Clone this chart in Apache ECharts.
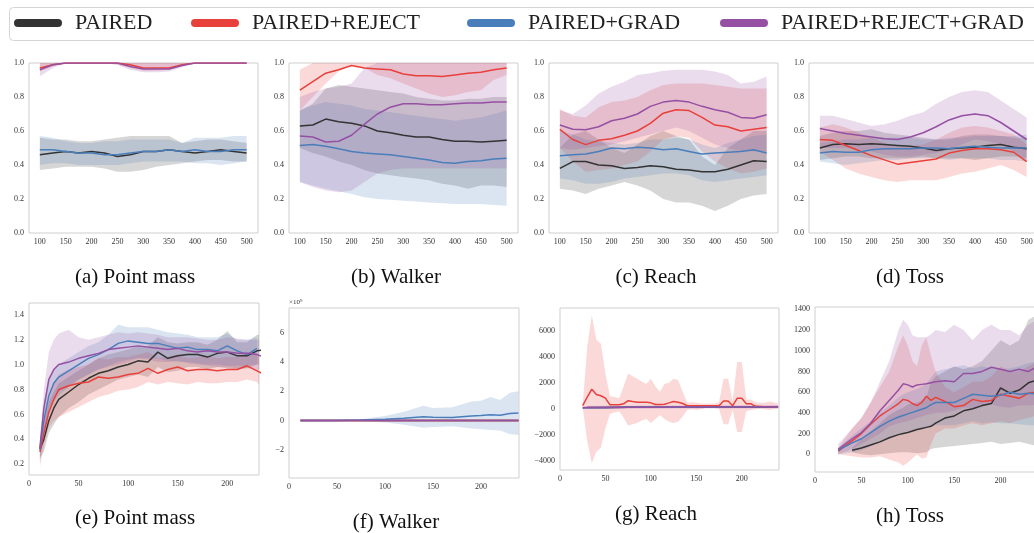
<!DOCTYPE html>
<html>
<head>
<meta charset="utf-8">
<script src="https://cdn.jsdelivr.net/npm/echarts@6/dist/echarts.min.js"></script>
<style>html,body{margin:0;padding:0;background:#fff}#c{width:1034px;height:533px}</style>
</head>
<body>
<div id="c"></div>
<script>
// ---------- names ----------
const NAMES = ['PAIRED', 'PAIRED+REJECT', 'PAIRED+GRAD', 'PAIRED+REJECT+GRAD'];
const TITLES = ['(a) Point mass', '(b) Walker', '(c) Reach', '(d) Toss', '(e) Point mass', '(f) Walker', '(g) Reach', '(h) Toss'];

// ---------- tick labels ----------
const X_TICKS_TOP = [100, 150, 200, 250, 300, 350, 400, 450, 500];
const Y_TICKS_TOP = [0.0, 0.2, 0.4, 0.6, 0.8, 1.0];
const X_TICKS_BOT = [0, 50, 100, 150, 200];
const Y_TICKS_E = [0.2, 0.4, 0.6, 0.8, 1.0, 1.2, 1.4];
const Y_TICKS_F = [-2, 0, 2, 4, 6];
const Y_TICKS_G = [-4000, -2000, 0, 2000, 4000, 6000];
const Y_TICKS_H = [0, 200, 400, 600, 800, 1000, 1200, 1400];

// ---------- top row (x = iteration) ----------
const X_TOP = [100,125,150,175,200,225,250,275,300,325,350,375,400,425,450,475,500];

// (a) Point mass
const A_PAIRED    = [0.46,0.47,0.48,0.47,0.48,0.47,0.45,0.46,0.48,0.48,0.49,0.48,0.47,0.48,0.49,0.48,0.47];
const A_PAIRED_LO = [0.37,0.38,0.39,0.39,0.39,0.38,0.36,0.36,0.37,0.39,0.40,0.41,0.42,0.43,0.43,0.42,0.42];
const A_PAIRED_HI = [0.56,0.55,0.55,0.54,0.54,0.55,0.56,0.57,0.57,0.57,0.57,0.53,0.54,0.55,0.55,0.54,0.53];
const A_REJECT    = [0.97,0.99,1.0,1.0,1.0,1.0,1.0,0.99,0.97,0.97,0.97,0.99,1.0,1.0,1.0,1.0,1.0];
const A_REJECT_LO = [0.95,0.98,1.0,1.0,1.0,1.0,0.99,0.97,0.955,0.955,0.96,0.98,1.0,1.0,1.0,1.0,1.0];
const A_REJECT_HI = [1.0,1.0,1.0,1.0,1.0,1.0,1.0,1.0,1.0,1.0,1.0,1.0,1.0,1.0,1.0,1.0,1.0];
const A_GRAD      = [0.49,0.49,0.48,0.47,0.47,0.46,0.46,0.47,0.48,0.48,0.49,0.48,0.49,0.48,0.48,0.49,0.49];
const A_GRAD_LO   = [0.40,0.41,0.41,0.40,0.40,0.40,0.40,0.41,0.42,0.42,0.42,0.42,0.41,0.41,0.40,0.41,0.42];
const A_GRAD_HI   = [0.57,0.56,0.54,0.53,0.53,0.54,0.54,0.55,0.55,0.55,0.55,0.53,0.56,0.56,0.56,0.57,0.57];
const A_RG        = [0.96,0.99,1.0,1.0,1.0,1.0,1.0,0.98,0.965,0.965,0.965,0.985,1.0,1.0,1.0,1.0,1.0];
const A_RG_LO     = [0.92,0.97,1.0,1.0,1.0,1.0,0.99,0.96,0.945,0.945,0.95,0.975,1.0,1.0,1.0,1.0,1.0];
const A_RG_HI     = [1.0,1.0,1.0,1.0,1.0,1.0,1.0,1.0,1.0,1.0,1.0,1.0,1.0,1.0,1.0,1.0,1.0];

// (b) Walker
const B_PAIRED    = [0.63,0.635,0.67,0.655,0.645,0.63,0.60,0.59,0.575,0.565,0.565,0.55,0.54,0.54,0.535,0.54,0.545];
const B_PAIRED_LO = [0.50,0.47,0.45,0.42,0.40,0.37,0.35,0.34,0.33,0.32,0.31,0.29,0.28,0.26,0.28,0.28,0.27];
const B_PAIRED_HI = [0.72,0.76,0.85,0.87,0.86,0.85,0.84,0.83,0.82,0.80,0.79,0.78,0.78,0.79,0.79,0.80,0.80];
const B_REJECT    = [0.84,0.89,0.94,0.96,0.985,0.97,0.965,0.96,0.935,0.925,0.925,0.92,0.93,0.94,0.945,0.96,0.97];
const B_REJECT_LO = [0.72,0.80,0.88,0.95,0.99,0.97,0.93,0.91,0.88,0.85,0.82,0.80,0.81,0.83,0.84,0.90,0.93];
const B_REJECT_HI = [0.96,1.0,1.0,1.0,1.0,1.0,1.0,1.0,1.0,1.0,1.0,1.0,1.0,1.0,1.0,1.0,1.0];
const B_GRAD      = [0.515,0.52,0.51,0.495,0.48,0.47,0.465,0.46,0.45,0.44,0.43,0.415,0.41,0.42,0.425,0.435,0.44];
const B_GRAD_LO   = [0.30,0.28,0.26,0.245,0.23,0.21,0.20,0.195,0.19,0.185,0.18,0.175,0.17,0.17,0.17,0.165,0.16];
const B_GRAD_HI   = [0.72,0.75,0.77,0.76,0.75,0.73,0.72,0.71,0.70,0.69,0.68,0.67,0.66,0.67,0.68,0.70,0.72];
const B_RG        = [0.57,0.565,0.535,0.54,0.575,0.64,0.70,0.74,0.76,0.76,0.755,0.755,0.76,0.765,0.765,0.77,0.77];
const B_RG_LO     = [0.30,0.27,0.25,0.24,0.25,0.30,0.35,0.37,0.38,0.38,0.38,0.38,0.38,0.38,0.38,0.38,0.38];
const B_RG_HI     = [0.80,0.83,0.85,0.86,0.88,0.97,1.0,1.0,1.0,1.0,1.0,1.0,1.0,1.0,1.0,1.0,1.0];

// (c) Reach
const C_PAIRED    = [0.38,0.42,0.42,0.40,0.395,0.38,0.385,0.395,0.39,0.375,0.37,0.36,0.36,0.375,0.40,0.425,0.42];
const C_PAIRED_LO = [0.26,0.25,0.23,0.26,0.28,0.30,0.28,0.25,0.20,0.18,0.18,0.16,0.13,0.16,0.20,0.22,0.23];
const C_PAIRED_HI = [0.50,0.58,0.60,0.55,0.50,0.47,0.52,0.57,0.60,0.57,0.55,0.45,0.40,0.50,0.55,0.60,0.60];
const C_REJECT    = [0.61,0.55,0.52,0.545,0.555,0.575,0.60,0.645,0.705,0.725,0.72,0.68,0.635,0.625,0.60,0.61,0.62];
const C_REJECT_LO = [0.50,0.42,0.36,0.37,0.38,0.40,0.42,0.48,0.55,0.57,0.56,0.48,0.42,0.38,0.35,0.36,0.38];
const C_REJECT_HI = [0.73,0.69,0.68,0.74,0.77,0.78,0.80,0.84,0.87,0.88,0.88,0.88,0.87,0.86,0.85,0.85,0.85];
const C_GRAD      = [0.455,0.46,0.465,0.48,0.50,0.495,0.505,0.50,0.49,0.495,0.48,0.465,0.47,0.475,0.48,0.49,0.47];
const C_GRAD_LO   = [0.32,0.31,0.29,0.29,0.30,0.32,0.33,0.34,0.35,0.35,0.34,0.31,0.30,0.31,0.32,0.33,0.34];
const C_GRAD_HI   = [0.60,0.58,0.55,0.54,0.53,0.52,0.53,0.55,0.55,0.56,0.55,0.52,0.50,0.53,0.55,0.57,0.58];
const C_RG        = [0.635,0.61,0.607,0.625,0.66,0.675,0.70,0.745,0.77,0.78,0.77,0.745,0.725,0.71,0.68,0.675,0.695];
const C_RG_LO     = [0.50,0.49,0.50,0.51,0.52,0.54,0.56,0.58,0.60,0.62,0.60,0.56,0.52,0.50,0.48,0.48,0.48];
const C_RG_HI     = [0.72,0.70,0.75,0.82,0.86,0.89,0.93,0.94,0.955,0.96,0.96,0.96,0.95,0.93,0.88,0.89,0.92];

// (d) Toss
const D_PAIRED    = [0.50,0.52,0.525,0.52,0.525,0.52,0.515,0.51,0.50,0.485,0.495,0.50,0.505,0.515,0.52,0.505,0.495];
const D_PAIRED_LO = [0.43,0.44,0.45,0.45,0.44,0.44,0.44,0.44,0.45,0.44,0.44,0.44,0.43,0.44,0.45,0.45,0.44];
const D_PAIRED_HI = [0.57,0.59,0.60,0.60,0.61,0.59,0.58,0.57,0.56,0.55,0.55,0.57,0.58,0.58,0.57,0.56,0.56];
const D_REJECT    = [0.55,0.545,0.515,0.485,0.455,0.43,0.405,0.415,0.425,0.435,0.47,0.485,0.495,0.495,0.49,0.475,0.42];
const D_REJECT_LO = [0.48,0.43,0.38,0.35,0.33,0.31,0.30,0.31,0.31,0.31,0.33,0.35,0.36,0.38,0.40,0.37,0.33];
const D_REJECT_HI = [0.62,0.64,0.62,0.59,0.56,0.53,0.51,0.51,0.52,0.55,0.59,0.62,0.63,0.62,0.60,0.58,0.52];
const D_GRAD      = [0.47,0.48,0.475,0.475,0.49,0.495,0.495,0.495,0.50,0.50,0.495,0.505,0.51,0.505,0.50,0.50,0.50];
const D_GRAD_LO   = [0.42,0.41,0.40,0.41,0.42,0.43,0.43,0.44,0.44,0.44,0.43,0.44,0.44,0.44,0.43,0.43,0.42];
const D_GRAD_HI   = [0.53,0.54,0.55,0.55,0.56,0.56,0.56,0.56,0.55,0.55,0.56,0.56,0.57,0.57,0.57,0.57,0.58];
const D_RG        = [0.615,0.60,0.585,0.575,0.565,0.555,0.55,0.565,0.59,0.625,0.665,0.69,0.70,0.69,0.65,0.60,0.55];
const D_RG_LO     = [0.50,0.50,0.50,0.49,0.48,0.46,0.45,0.45,0.46,0.47,0.49,0.52,0.55,0.54,0.52,0.48,0.42];
const D_RG_HI     = [0.69,0.69,0.67,0.65,0.63,0.64,0.66,0.69,0.71,0.76,0.80,0.83,0.84,0.83,0.78,0.73,0.68];

// ---------- (e) Point mass ----------
const X_E = [11,15,20,25,30,40,50,60,70,80,90,100,110,120,130,140,150,160,170,180,190,200,210,220,230,237];
const E_PAIRED    = [0.32,0.40,0.55,0.65,0.72,0.78,0.84,0.89,0.93,0.95,0.98,1.00,1.03,1.02,1.10,1.05,1.07,1.08,1.08,1.06,1.09,1.10,1.07,1.07,1.11,1.12];
const E_PAIRED_LO = [0.25,0.30,0.45,0.52,0.58,0.65,0.70,0.76,0.80,0.84,0.88,0.90,0.92,0.90,0.98,0.94,0.95,0.98,0.98,0.96,0.98,0.97,0.96,0.97,1.00,1.00];
const E_PAIRED_HI = [0.38,0.52,0.70,0.78,0.85,0.90,0.95,1.00,1.05,1.08,1.10,1.12,1.15,1.15,1.22,1.18,1.17,1.18,1.18,1.16,1.20,1.27,1.18,1.18,1.24,1.24];
const E_REJECT    = [0.30,0.45,0.62,0.72,0.80,0.83,0.85,0.86,0.90,0.89,0.90,0.92,0.93,0.97,0.93,0.96,0.98,0.95,0.96,0.96,0.95,0.96,0.96,0.99,0.95,0.92];
const E_REJECT_LO = [0.18,0.35,0.50,0.55,0.58,0.62,0.66,0.70,0.74,0.76,0.79,0.80,0.82,0.86,0.84,0.86,0.85,0.84,0.86,0.85,0.85,0.86,0.86,0.88,0.86,0.79];
const E_REJECT_HI = [0.40,0.55,0.72,0.85,0.92,0.96,0.98,1.00,1.05,1.04,1.06,1.06,1.08,1.10,1.05,1.06,1.08,1.05,1.06,1.07,1.05,1.06,1.06,1.10,1.08,1.02];
const E_GRAD      = [0.32,0.55,0.75,0.85,0.90,0.95,1.00,1.05,1.08,1.12,1.17,1.19,1.18,1.17,1.17,1.15,1.13,1.14,1.12,1.12,1.11,1.15,1.11,1.08,1.13,null];
const E_GRAD_LO   = [0.22,0.40,0.60,0.70,0.75,0.82,0.88,0.92,0.96,0.99,1.02,1.04,1.05,1.05,1.05,1.03,1.02,1.02,1.01,1.00,1.00,0.99,0.99,0.99,1.00,null];
const E_GRAD_HI   = [0.40,0.70,0.90,0.96,1.00,1.05,1.10,1.15,1.18,1.24,1.32,1.30,1.30,1.30,1.28,1.26,1.25,1.24,1.22,1.22,1.22,1.25,1.20,1.20,1.22,null];
const E_RG        = [0.33,0.65,0.88,0.96,1.00,1.02,1.05,1.07,1.09,1.12,1.13,1.14,1.15,1.14,1.13,1.12,1.13,1.11,1.10,1.11,1.10,1.10,1.09,1.09,1.08,1.06];
const E_RG_LO     = [0.25,0.45,0.65,0.72,0.78,0.82,0.88,0.92,0.96,0.98,1.00,1.02,1.05,1.04,1.02,1.02,1.03,1.01,1.00,0.99,0.98,0.98,0.97,0.97,0.96,0.95];
const E_RG_HI     = [0.38,0.80,1.10,1.20,1.25,1.28,1.22,1.20,1.22,1.24,1.26,1.25,1.26,1.25,1.24,1.22,1.22,1.22,1.21,1.20,1.20,1.22,1.21,1.20,1.20,1.20];

// ---------- (f) Walker (units of 1e9) ----------
const X_F = [12,25,50,75,100,120,140,150,170,190,200,210,220,230,239];
const X_F_FLAT = [12,120,239];
const F_PAIRED    = [0,0,0];
const F_PAIRED_LO = [-0.02,-0.02,-0.02];
const F_PAIRED_HI = [0.02,0.02,0.02];
const F_REJECT    = [0,0,0];
const F_REJECT_LO = [-0.03,-0.03,-0.03];
const F_REJECT_HI = [0.03,0.03,0.03];
const F_GRAD      = [0,0,0,0.02,0.08,0.15,0.25,0.22,0.20,0.30,0.33,0.38,0.36,0.48,0.50];
const F_GRAD_LO   = [0,0,-0.01,-0.05,-0.15,-0.30,-0.50,-0.45,-0.40,-0.55,-0.60,-0.65,-0.70,-0.95,-1.00];
const F_GRAD_HI   = [0,0,0.01,0.08,0.30,0.60,1.00,0.85,0.90,1.30,1.35,1.60,1.40,1.90,2.00];
const F_RG        = [0,0,0];
const F_RG_LO     = [-0.05,-0.05,-0.05];
const F_RG_HI     = [0.05,0.05,0.05];

// ---------- (g) Reach ----------
const X_G = [25,30,35,40,45,50,55,60,65,70,75,80,85,90,95,100,105,110,115,120,125,130,135,140,145,150,155,160,165,170,175,180,185,190,195,200,205,210,215,220,225,230,235,240];
const X_G_FLAT = [25,30,50,75,100,125,150,175,200,225,240];
const G_PAIRED    = [null,90,100,110,120,120,120,130,140,140,150];
const G_PAIRED_LO = [null,60,60,70,80,80,80,90,100,100,110];
const G_PAIRED_HI = [null,120,140,150,160,160,160,170,180,180,190];
const G_REJECT    = [230,900,1500,1100,1000,820,300,300,300,380,615,550,500,500,500,450,320,320,350,450,560,500,400,230,230,230,230,230,230,230,230,590,590,230,800,800,385,385,180,170,160,160,150,150];
const G_REJECT_LO = [100,-2500,-4200,-3300,-3000,-1500,-400,-300,-200,-700,-1300,-1200,-1100,-900,-800,-1100,-800,-500,-800,-1000,-1100,-1000,-600,-100,-50,-100,-50,50,50,50,0,-1200,-1200,-100,-1800,-1800,-200,-100,-50,0,-50,-100,-50,0];
const G_REJECT_HI = [300,4800,7200,5300,5000,2700,950,900,800,1700,2700,2500,2300,2100,1900,2300,1700,1300,1900,2000,2300,2200,1300,450,500,450,400,400,400,400,500,2300,2300,600,3600,3600,700,700,500,450,450,550,500,400];
const G_GRAD      = [60,80,100,110,120,120,130,140,140,150,160];
const G_GRAD_LO   = [20,30,40,50,60,60,70,80,80,90,100];
const G_GRAD_HI   = [100,130,160,170,180,180,190,200,200,210,220];
const G_RG        = [80,90,100,110,120,130,130,140,140,150,160];
const G_RG_LO     = [0,-20,-30,-10,0,10,10,20,20,30,40];
const G_RG_HI     = [160,200,230,230,240,250,250,260,260,270,280];

// ---------- (h) Toss ----------
const X_H = [25,40,50,60,70,80,90,95,100,105,110,115,120,125,130,140,150,160,170,180,190,200,210,220,230,240];
const H_PAIRED    = [null,40,60,90,120,160,190,200,210,225,240,250,260,270,300,350,370,420,440,470,490,640,590,620,690,720];
const H_PAIRED_LO = [null,20,0,-10,0,10,20,20,20,15,10,15,20,50,60,70,80,90,100,110,120,100,110,120,100,80];
const H_PAIRED_HI = [null,60,150,220,300,380,430,450,480,490,500,520,550,700,750,800,850,820,850,900,1000,1100,1050,1100,1300,1350];
const H_REJECT    = [30,130,200,290,370,430,490,530,520,490,470,500,560,520,550,510,460,470,530,510,520,580,560,540,590,600];
const H_REJECT_LO = [0,-20,-30,-30,-20,-50,-80,-110,-80,-40,0,-40,-30,100,200,250,250,280,300,280,300,320,300,330,350,380];
const H_REJECT_HI = [60,250,350,500,650,800,1050,1150,1050,900,850,1050,1130,950,800,650,600,650,700,700,750,850,800,800,850,900];
const H_GRAD      = [40,110,150,210,270,320,360,375,390,405,420,435,450,480,500,500,500,540,580,570,560,570,600,580,590,580];
const H_GRAD_LO   = [0,20,40,80,120,160,190,205,220,230,240,250,260,270,280,280,280,300,320,300,310,300,300,290,280,280];
const H_GRAD_HI   = [60,180,250,320,400,470,550,580,600,615,630,655,680,740,800,820,840,860,830,850,830,820,830,850,880,900];
const H_RG        = [48,150,210,300,420,520,620,680,670,650,670,675,680,690,700,710,700,780,780,800,840,820,800,820,800,850];
const H_RG_LO     = [0,50,100,150,200,270,300,310,320,335,350,365,380,390,400,400,420,450,450,460,480,460,450,470,470,480];
const H_RG_HI     = [100,250,350,500,700,900,1200,1300,1250,1150,1130,1130,1130,1160,1200,1180,1250,1200,1100,1200,1250,1200,1200,1150,1250,1300];

// ---------- styling ----------
const COLORS = ['#333333', '#e8403a', '#4a7ebb', '#9650a3'];
const BAND_FILLS = ['rgba(51,51,51,0.2)', 'rgba(232,64,58,0.2)', 'rgba(74,126,187,0.2)', 'rgba(150,80,163,0.2)'];
const FONT = '"Liberation Serif", "DejaVu Serif", serif';
const CAPSULE = 'path://M4,0 L44,0 A4,4 0 0 1 44,8 L4,8 A4,4 0 0 1 4,0 Z';

const minus = s => String(s).replace('-', '\u2212');
const fmt1 = v => v.toFixed(1);
const fmtInt = v => minus(Math.round(v));

const PANELS = [
  {grid:{left:29,top:63,width:229,height:170}, x:[79,522,X_TICKS_TOP], y:[0,1,Y_TICKS_TOP,fmt1], title:[135,277],
   s:[[X_TOP,A_PAIRED,A_PAIRED_LO,A_PAIRED_HI],[X_TOP,A_REJECT,A_REJECT_LO,A_REJECT_HI],[X_TOP,A_GRAD,A_GRAD_LO,A_GRAD_HI],[X_TOP,A_RG,A_RG_LO,A_RG_HI]]},
  {grid:{left:289,top:63,width:229,height:170}, x:[79,522,X_TICKS_TOP], y:[0,1,Y_TICKS_TOP,fmt1], title:[396,277],
   s:[[X_TOP,B_PAIRED,B_PAIRED_LO,B_PAIRED_HI],[X_TOP,B_REJECT,B_REJECT_LO,B_REJECT_HI],[X_TOP,B_GRAD,B_GRAD_LO,B_GRAD_HI],[X_TOP,B_RG,B_RG_LO,B_RG_HI]]},
  {grid:{left:549,top:63,width:229,height:170}, x:[79,522,X_TICKS_TOP], y:[0,1,Y_TICKS_TOP,fmt1], title:[656,277],
   s:[[X_TOP,C_PAIRED,C_PAIRED_LO,C_PAIRED_HI],[X_TOP,C_REJECT,C_REJECT_LO,C_REJECT_HI],[X_TOP,C_GRAD,C_GRAD_LO,C_GRAD_HI],[X_TOP,C_RG,C_RG_LO,C_RG_HI]]},
  {grid:{left:809,top:63,width:229,height:170}, x:[79,522,X_TICKS_TOP], y:[0,1,Y_TICKS_TOP,fmt1], title:[910,277],
   s:[[X_TOP,D_PAIRED,D_PAIRED_LO,D_PAIRED_HI],[X_TOP,D_REJECT,D_REJECT_LO,D_REJECT_HI],[X_TOP,D_GRAD,D_GRAD_LO,D_GRAD_HI],[X_TOP,D_RG,D_RG_LO,D_RG_HI]]},
  {grid:{left:29,top:303,width:230,height:172}, x:[0,232,X_TICKS_BOT], y:[0.114,1.494,Y_TICKS_E,fmt1], title:[135,518],
   s:[[X_E,E_PAIRED,E_PAIRED_LO,E_PAIRED_HI],[X_E,E_REJECT,E_REJECT_LO,E_REJECT_HI],[X_E,E_GRAD,E_GRAD_LO,E_GRAD_HI],[X_E,E_RG,E_RG_LO,E_RG_HI]]},
  {grid:{left:289,top:308,width:230,height:170}, x:[0,239.6,X_TICKS_BOT], y:[-3.95,7.71,Y_TICKS_F,fmtInt], title:[396,522], yname:'\u00d710\u2079',
   s:[[X_F_FLAT,F_PAIRED,F_PAIRED_LO,F_PAIRED_HI],[X_F_FLAT,F_REJECT,F_REJECT_LO,F_REJECT_HI],[X_F,F_GRAD,F_GRAD_LO,F_GRAD_HI],[X_F_FLAT,F_RG,F_RG_LO,F_RG_HI]]},
  {grid:{left:560,top:308,width:219,height:162}, x:[0,241,X_TICKS_BOT], y:[-4717,7750,Y_TICKS_G,fmtInt], title:[656,514],
   s:[[X_G_FLAT,G_PAIRED,G_PAIRED_LO,G_PAIRED_HI],[X_G,G_REJECT,G_REJECT_LO,G_REJECT_HI],[X_G_FLAT,G_GRAD,G_GRAD_LO,G_GRAD_HI],[X_G_FLAT,G_RG,G_RG_LO,G_RG_HI]]},
  {grid:{left:815,top:307,width:227,height:165}, x:[0,244.6,X_TICKS_BOT], y:[-171,1422,Y_TICKS_H,fmtInt], title:[910,516],
   s:[[X_H,H_PAIRED,H_PAIRED_LO,H_PAIRED_HI],[X_H,H_REJECT,H_REJECT_LO,H_REJECT_HI],[X_H,H_GRAD,H_GRAD_LO,H_GRAD_HI],[X_H,H_RG,H_RG_LO,H_RG_HI]]}
];

function pairs(xs, ys) {
  const out = [];
  for (let i = 0; i < xs.length; i++) if (ys[i] != null) out.push([xs[i], ys[i]]);
  return out;
}
function bandRenderer(xs, lo, hi, fill) {
  return function (params, api) {
    const pts = [];
    for (let i = 0; i < xs.length; i++) if (hi[i] != null) pts.push(api.coord([xs[i], hi[i]]));
    for (let i = xs.length - 1; i >= 0; i--) if (lo[i] != null) pts.push(api.coord([xs[i], lo[i]]));
    return { type: 'polygon', shape: { points: pts }, style: { fill: fill, stroke: null }, silent: true };
  };
}

const grids = [], xAxes = [], yAxes = [], series = [], graphics = [];
const labelStyle = { fontFamily: FONT, fontSize: 8, color: '#333' };

PANELS.forEach((p, i) => {
  grids.push(Object.assign({ show: true, borderColor: '#cfcfcf', borderWidth: 1, backgroundColor: '#fff',
    containLabel: false, outerBoundsMode: 'none' }, p.grid));
  xAxes.push({ type: 'value', gridIndex: i, min: p.x[0], max: p.x[1],
    axisLine: { show: false }, axisTick: { show: false }, splitLine: { show: false },
    axisLabel: Object.assign({ customValues: p.x[2], margin: 5, formatter: v => String(v) }, labelStyle) });
  const ya = { type: 'value', gridIndex: i, min: p.y[0], max: p.y[1],
    axisLine: { show: false }, axisTick: { show: false }, splitLine: { show: false },
    axisLabel: Object.assign({ customValues: p.y[2], margin: 5, formatter: p.y[3] }, labelStyle) };
  if (p.yname) {
    ya.name = p.yname; ya.nameLocation = 'end'; ya.nameGap = 2;
    ya.nameTextStyle = { fontFamily: FONT, fontSize: 7, color: '#333', align: 'left', verticalAlign: 'bottom' };
  }
  yAxes.push(ya);
  p.s.forEach((d, k) => {
    const xs = d[0], lo = d[2], hi = d[3];
    let f = 0; while (lo[f] == null) f++;
    series.push({ type: 'custom', name: NAMES[k] + ' band', xAxisIndex: i, yAxisIndex: i, clip: true,
      z: 2, silent: true, animation: false, data: [[xs[f], lo[f]]],
      renderItem: bandRenderer(xs, lo, hi, BAND_FILLS[k]) });
  });
  p.s.forEach((d, k) => {
    series.push({ type: 'line', name: NAMES[k], xAxisIndex: i, yAxisIndex: i, data: pairs(d[0], d[1]),
      showSymbol: false, symbol: 'none', color: COLORS[k], lineStyle: { width: 1.5, color: COLORS[k] },
      z: 3, animation: false, silent: true, clip: true });
  });
  graphics.push({ type: 'text', x: p.title[0], y: p.title[1], silent: true,
    style: { text: TITLES[i], fontFamily: FONT, fontSize: 21, fill: '#111', align: 'center', verticalAlign: 'middle',
      textAlign: 'center', textVerticalAlign: 'middle' } });
});

graphics.push({ type: 'rect', z: -10, silent: true, shape: { x: 9.5, y: 7.5, width: 1040, height: 33, r: 4 },
  style: { fill: '#fff', stroke: '#d5d5d5', lineWidth: 1 } });

const LEGEND_LEFT = [14, 191, 467, 720];
const legends = NAMES.map((n, k) => ({
  data: [{ name: n, icon: CAPSULE, itemStyle: { color: COLORS[k] } }], left: LEGEND_LEFT[k], top: 12, padding: 0,
  itemWidth: 48, itemHeight: 8, selectedMode: false, z: 10,
  textStyle: { fontFamily: FONT, fontSize: 22, color: '#222', padding: [0, 0, 0, 8] }
}));

const chart = echarts.init(document.getElementById('c'), null, { renderer: 'canvas' });
chart.setOption({
  animation: false,
  backgroundColor: '#fff',
  legend: legends,
  grid: grids,
  xAxis: xAxes,
  yAxis: yAxes,
  series: series,
  graphic: graphics
});
</script>
</body>
</html>
